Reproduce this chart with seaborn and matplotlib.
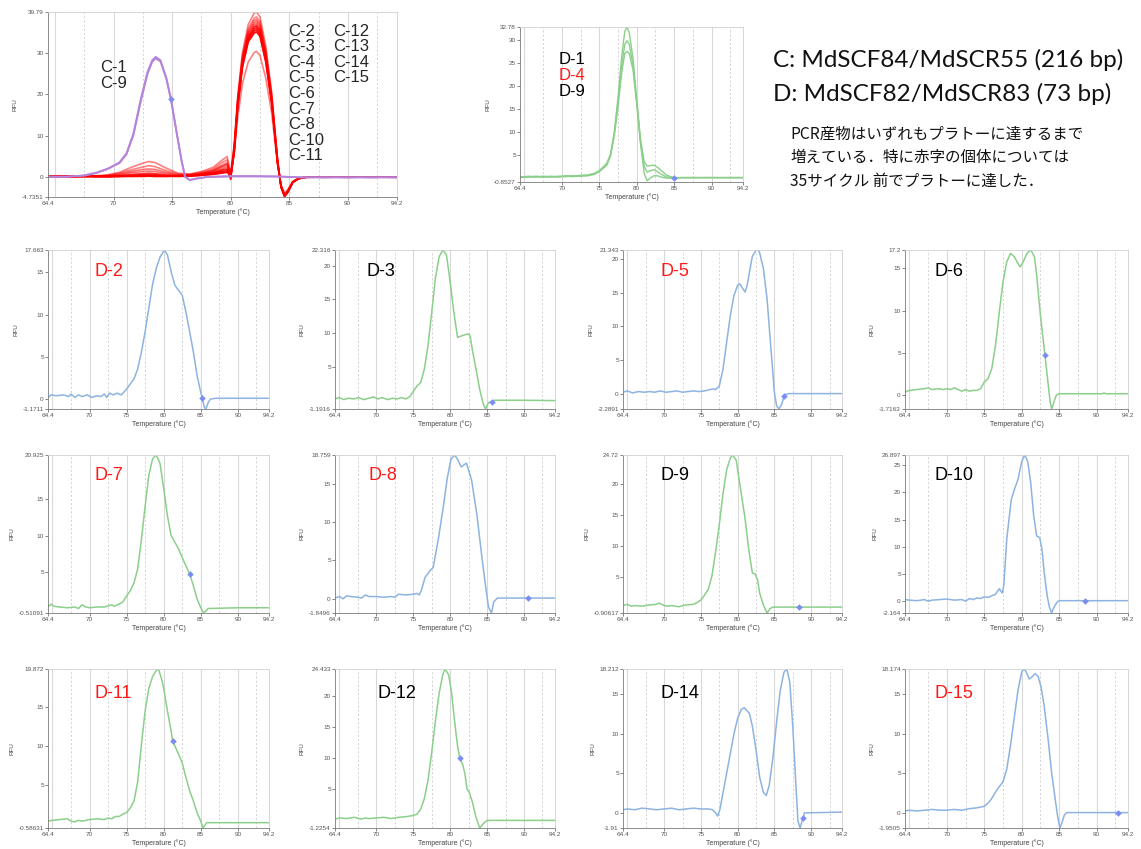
import matplotlib
matplotlib.use("Agg")
import matplotlib.pyplot as plt
import seaborn as sns

sns.set_theme(style="white")
plt.rcParams['font.family'] = ['Liberation Sans', 'DejaVu Sans']

# ---------------- data ----------------
X_TICKS = [64.4, 70, 75, 80, 85, 90, 94.2]

# C panel: red curves (C-2..C-8, C-10..C-15) on a shared temperature grid
C_t = [64.4, 65.5, 66.5, 67.5, 68.5, 69.5, 70.5, 71.5, 72.5, 73.0, 73.5, 74.5, 75.5, 76.5, 77.5,
       78.5, 79.2, 79.7, 80.0, 80.3, 80.6, 81.0, 81.5, 82.0, 82.2, 82.5, 83.0, 83.5, 84.0, 84.3,
       84.6, 84.9, 85.3, 85.8, 86.5, 88.0, 90.0, 92.0, 94.2]
C_red_1 = [0.3, 0.2, 0.4, 0.2, 0.4, 0.6, 1.2, 2.4, 3.4, 3.8, 3.6, 2.2, 1.0, 0.8, 1.4, 2.4, 4.0, 5.0, 1.0,
           8.0, 19.5, 30.0, 36.8, 39.5, 39.79, 38.6, 31.5, 20.5, 4.5, -2.5, -4.7, -3.6, -1.3, -0.3, 0.1,
           0.1, 0.1, 0.1, 0.1]
C_red_2 = [0.2, 0.4, 0.1, 0.3, 0.2, 0.5, 1.0, 1.8, 2.5, 2.8, 2.6, 1.6, 0.8, 0.7, 1.2, 2.0, 3.4, 4.2, 0.6,
           7.5, 19.0, 29.2, 35.8, 38.3, 38.6, 37.5, 30.6, 19.8, 4.2, -2.4, -4.6, -3.5, -1.2, -0.3, 0.1,
           0.0, 0.1, 0.0, 0.1]
C_red_3 = [0.4, 0.2, 0.3, 0.1, 0.3, 0.4, 0.8, 1.4, 1.9, 2.0, 1.9, 1.2, 0.6, 0.6, 1.0, 1.7, 2.8, 3.5, 0.3,
           7.2, 18.6, 28.8, 35.2, 37.7, 38.0, 36.9, 30.0, 19.4, 4.0, -2.4, -4.6, -3.5, -1.2, -0.3, 0.1,
           0.1, 0.0, 0.1, 0.1]
C_red_4 = [0.2, 0.3, 0.2, 0.4, 0.2, 0.3, 0.6, 1.1, 1.4, 1.5, 1.4, 0.9, 0.5, 0.5, 0.9, 1.5, 2.4, 3.0, 0.0,
           7.0, 18.4, 28.4, 34.8, 37.2, 37.5, 36.4, 29.6, 19.1, 3.9, -2.3, -4.5, -3.4, -1.2, -0.3, 0.0,
           0.1, 0.1, 0.1, 0.0]
C_red_5 = [0.3, 0.1, 0.3, 0.2, 0.3, 0.2, 0.4, 0.7, 0.9, 1.0, 0.9, 0.6, 0.4, 0.5, 0.8, 1.3, 2.0, 2.5, -0.3,
           6.8, 18.0, 28.0, 34.4, 36.7, 37.0, 35.9, 29.2, 18.8, 3.8, -2.3, -4.5, -3.4, -1.2, -0.3, 0.1,
           0.1, 0.1, 0.0, 0.1]
C_red_6 = [0.1, 0.3, 0.2, 0.3, 0.1, 0.2, 0.3, 0.5, 0.6, 0.6, 0.6, 0.4, 0.3, 0.4, 0.7, 1.1, 1.7, 2.0, -0.5,
           6.6, 17.7, 27.6, 33.9, 36.2, 36.5, 35.4, 28.8, 18.5, 3.7, -2.2, -4.4, -3.3, -1.1, -0.3, 0.1,
           0.0, 0.1, 0.1, 0.1]
C_red_7 = [0.3, 0.2, 0.3, 0.2, 0.3, 0.3, 0.2, 0.3, 0.4, 0.4, 0.4, 0.3, 0.3, 0.4, 0.6, 1.0, 1.4, 1.6, 0.2,
           6.4, 17.4, 27.2, 33.5, 35.7, 36.0, 34.9, 28.4, 18.3, 3.6, -2.2, -4.4, -3.3, -1.1, -0.3, 0.0,
           0.1, 0.0, 0.1, 0.1]
C_red_8 = [0.2, 0.2, 0.1, 0.3, 0.2, 0.2, 0.3, 0.2, 0.3, 0.3, 0.3, 0.3, 0.2, 0.3, 0.5, 0.8, 1.1, 1.3, 0.4,
           6.2, 17.1, 26.8, 33.0, 35.2, 35.5, 34.4, 28.0, 18.0, 3.5, -2.1, -4.3, -3.2, -1.1, -0.3, 0.1,
           0.1, 0.1, 0.1, 0.0]
C_red_9 = [0.3, 0.3, 0.2, 0.2, 0.3, 0.1, 0.2, 0.3, 0.2, 0.3, 0.2, 0.2, 0.3, 0.3, 0.5, 0.7, 1.0, 1.2, 0.5,
           6.0, 16.8, 26.4, 32.6, 34.7, 35.0, 33.9, 27.6, 17.8, 3.4, -2.1, -4.3, -3.2, -1.1, -0.3, 0.1,
           0.1, 0.1, 0.1, 0.1]
C_red_10 = [0.2, 0.3, 0.2, 0.3, 0.2, 0.3, 0.4, 0.6, 0.8, 0.9, 0.8, 0.5, 0.4, 0.5, 0.9, 1.6, 2.6, 3.2, 0.8,
            5.5, 14.5, 22.5, 27.8, 30.0, 30.3, 29.3, 23.8, 15.4, 3.0, -1.8, -3.8, -2.8, -1.0, -0.2, 0.1,
            0.1, 0.1, 0.1, 0.1]
# C panel: purple curves (C-1, C-9)
P_t = [64.4, 66.0, 67.5, 68.5, 69.5, 70.5, 71.1, 71.7, 72.3, 72.9, 73.3, 73.6, 74.0, 74.5, 74.9, 75.4,
       75.8, 76.1, 76.5, 77.1, 78.0, 80.0, 82.0, 84.0, 85.0, 86.0, 88.0, 90.0, 92.0, 94.2]
C_purple_1 = [0.1, 0.2, 0.4, 1.0, 2.0, 3.6, 5.8, 10.6, 18.6, 25.4, 28.2, 29.0, 28.2, 24.0, 18.9, 10.6,
              4.2, 0.2, -0.7, -0.3, 0.1, 0.3, 0.3, 0.2, 0.1, 0.0, 0.0, 0.0, 0.0, 0.0]
C_purple_2 = [0.2, 0.1, 0.5, 1.1, 2.1, 3.4, 5.5, 10.2, 18.0, 24.9, 27.8, 28.6, 27.9, 23.7, 18.7, 10.4,
              4.0, 0.1, -0.6, -0.3, 0.1, 0.2, 0.2, 0.2, 0.1, 0.0, 0.0, 0.0, 0.0, 0.0]
C_dot = (74.9, 18.9)
C_yticks = [-4.7351, 0, 10, 20, 30, 39.79]

# Top D panel: D-1, D-4, D-9
Dtop_t = [64.4, 65.5, 66.5, 67.5, 68.5, 69.5, 70.5, 71.5, 72.5, 73.5, 74.3, 75.0, 75.5, 76.0, 76.5,
          77.0, 77.5, 78.0, 78.4, 78.7, 79.0, 79.5, 80.0, 80.5, 81.0, 81.4, 81.8, 82.3, 82.8, 83.3,
          84.0, 85.0, 86.0, 88.0, 90.0, 92.0, 94.2]
Dtop_a = [0.2, 0.4, 0.3, 0.2, 0.4, 0.3, 0.5, 0.4, 0.6, 0.7, 1.0, 1.6, 2.4, 3.2, 5.2, 10.0, 17.5, 26.5,
          31.8, 32.78, 31.5, 26.0, 17.0, 8.5, 3.5, 2.6, 2.7, 2.8, 2.3, 1.6, 0.6, 0.1, 0.1, 0.1, 0.1,
          0.1, 0.1]
Dtop_b = [0.3, 0.2, 0.4, 0.3, 0.2, 0.4, 0.3, 0.5, 0.4, 0.6, 0.9, 1.5, 2.2, 3.0, 5.0, 9.6, 16.5, 24.5,
          29.0, 29.8, 29.0, 24.5, 16.5, 8.0, 2.5, 1.3, 1.6, 1.8, 1.4, 0.8, 0.2, 0.0, 0.1, 0.1, 0.1,
          0.1, 0.1]
Dtop_c = [0.1, 0.3, 0.2, 0.4, 0.3, 0.2, 0.4, 0.3, 0.5, 0.5, 0.8, 1.4, 2.1, 2.8, 4.8, 9.2, 15.5, 23.0,
          27.0, 27.5, 27.0, 23.5, 16.0, 7.5, 1.0, -0.6, 0.0, 0.5, 0.5, 0.2, 0.0, 0.0, 0.1, 0.1, 0.1,
          0.1, 0.1]
Dtop_dot = (85.0, 0.0)
Dtop_yticks = [-0.8527, 5, 10, 15, 20, 25, 30, 32.78]

# Individual D panels
D2_t = [64.4, 64.8, 65.5, 66.5, 67.2, 67.5, 68.0, 68.5, 69.0, 69.7, 70.3, 71.0, 71.5, 72.0, 72.3, 72.7,
        73.2, 73.7, 74.3, 74.7, 75.0, 75.5, 76.0, 76.5, 77.0, 77.5, 78.0, 78.5, 79.0, 79.5, 80.1, 80.5,
        81.0, 81.5, 82.0, 82.5, 83.0, 83.5, 84.0, 84.5, 85.0, 85.5, 85.7, 86.0, 86.3, 87.0, 94.2]
D2_v = [0.2, 0.5, 0.4, 0.5, 0.3, 0.6, 0.2, 0.5, 0.3, 0.5, 0.2, 0.4, 0.3, 0.6, 0.2, 0.7, 0.5, 0.7, 0.5,
        0.9, 1.2, 1.8, 2.4, 3.6, 5.6, 8.0, 10.8, 13.6, 15.5, 16.8, 17.663, 17.1, 15.1, 13.5, 12.9, 12.3,
        10.3, 8.0, 5.6, 2.8, 0.8, -1.0, -1.1711, -0.4, 0.0, 0.1, 0.1]
D3_t = [64.4, 65.0, 65.6, 66.2, 67.0, 67.6, 68.3, 69.0, 69.6, 70.2, 70.8, 71.5, 72.2, 72.8, 73.4, 74.0,
        74.5, 75.0, 75.5, 76.0, 76.5, 77.0, 77.5, 78.0, 78.5, 79.0, 79.5, 80.0, 80.5, 81.0, 81.5, 82.0,
        82.5, 82.7, 83.0, 83.5, 84.0, 84.5, 84.8, 85.2, 85.6, 86.0, 90.0, 94.2]
D3_v = [0.3, 0.5, 0.2, 0.4, 0.3, 0.5, 0.2, 0.4, 0.6, 0.3, 0.5, 0.2, 0.4, 0.3, 0.5, 0.3, 0.6, 1.4, 2.2,
        2.7, 4.7, 8.2, 13.1, 18.1, 21.3, 22.316, 21.6, 17.6, 13.1, 9.4, 9.6, 9.8, 9.9, 9.6, 7.6, 4.7,
        1.7, -0.5, -1.1916, -0.25, -0.1, 0.1, 0.1, 0.05]
D5_t = [64.4, 65.0, 65.7, 66.5, 67.3, 68.0, 68.7, 69.5, 70.2, 71.0, 71.7, 72.5, 73.2, 74.0, 74.7, 75.5,
        76.2, 76.7, 77.0, 77.5, 78.0, 78.5, 79.0, 79.5, 80.0, 80.3, 80.7, 81.0, 81.3, 81.7, 82.0, 82.5,
        82.8, 83.0, 83.5, 84.0, 84.5, 85.0, 85.3, 85.6, 86.0, 86.3, 86.6, 87.0, 94.2]
D5_v = [0.2, 0.4, 0.1, 0.3, 0.2, 0.3, 0.2, 0.4, 0.2, 0.3, 0.4, 0.2, 0.3, 0.4, 0.3, 0.4, 0.6, 0.7, 0.6,
        1.1, 3.6, 7.6, 11.6, 14.6, 16.1, 16.3, 15.6, 15.1, 16.1, 18.6, 20.4, 21.3, 21.343, 20.9, 18.6,
        14.1, 7.1, 0.15, -1.8, -2.2891, -1.6, -0.4, -0.1, 0.0, 0.0]
D6_t = [64.4, 65.0, 66.0, 67.0, 67.5, 68.0, 69.0, 69.5, 70.0, 70.5, 71.0, 71.5, 72.0, 72.5, 73.0, 73.5,
        74.0, 74.5, 75.0, 75.5, 76.0, 76.5, 77.0, 77.5, 78.0, 78.5, 79.0, 79.5, 79.8, 80.2, 80.7, 81.2,
        81.7, 82.0, 82.5, 83.0, 83.5, 83.8, 84.0, 84.3, 84.6, 85.0, 90.8, 91.0, 91.2, 94.2]
D6_v = [0.3, 0.5, 0.6, 0.7, 0.8, 0.6, 0.7, 0.6, 0.7, 0.6, 0.8, 0.6, 0.4, 0.6, 0.4, 0.5, 0.5, 0.7, 1.5,
        1.9, 3.1, 5.9, 9.8, 13.4, 15.8, 16.8, 16.4, 15.6, 15.2, 15.8, 16.8, 17.2, 16.4, 14.2, 9.4, 5.5,
        1.5, -0.9, -1.7163, -0.9, -0.1, 0.1, 0.1, 0.2, 0.1, 0.1]
D7_t = [64.4, 64.8, 65.2, 66.0, 67.0, 68.0, 68.5, 69.0, 69.5, 70.0, 71.0, 72.0, 73.0, 73.3, 74.0, 74.5,
        75.0, 75.5, 76.0, 76.5, 77.0, 77.5, 78.0, 78.5, 79.0, 79.5, 80.0, 80.5, 81.0, 81.5, 82.0, 82.5,
        83.0, 83.5, 84.0, 84.5, 85.0, 85.4, 86.0, 90.0, 94.2]
D7_v = [0.3, 0.7, 0.4, 0.3, 0.2, 0.3, 0.1, 0.6, 0.3, 0.2, 0.3, 0.3, 0.6, 0.4, 0.7, 1.0, 1.8, 2.5, 3.6,
        5.5, 9.5, 14.0, 18.2, 20.4, 20.925, 19.8, 16.4, 12.7, 10.0, 9.1, 8.2, 7.0, 5.9, 4.8, 3.2, 1.4,
        0.2, -0.51091, 0.1, 0.2, 0.2]
D8_t = [64.4, 65.0, 65.5, 66.0, 66.5, 67.5, 68.0, 68.5, 69.0, 70.0, 71.0, 72.0, 72.5, 73.0, 74.0, 75.0,
        75.5, 75.8, 76.1, 76.6, 77.3, 77.7, 78.4, 79.1, 79.6, 80.1, 80.6, 81.0, 81.5, 82.2, 82.9, 83.6,
        84.3, 84.9, 85.2, 85.6, 85.9, 86.4, 94.2]
D8_v = [0.1, 0.3, 0.0, 0.4, 0.3, 0.2, 0.1, 0.5, 0.3, 0.3, 0.2, 0.3, 0.2, 0.6, 0.5, 0.6, 0.7, 0.5, 1.1,
        2.8, 3.7, 4.1, 7.8, 12.2, 15.7, 18.2, 18.759, 18.2, 17.2, 17.7, 15.5, 11.1, 5.4, 0.9, -1.1,
        -1.8496, -0.4, 0.1, 0.1]
D9_t = [64.4, 65.0, 65.5, 66.0, 67.0, 68.0, 69.0, 69.3, 70.0, 70.5, 71.0, 72.0, 72.5, 73.0, 74.0, 74.5,
        75.0, 75.5, 76.0, 76.5, 77.0, 77.5, 78.0, 78.5, 79.0, 79.3, 79.8, 80.0, 80.5, 81.0, 81.5, 82.0,
        82.4, 82.7, 83.0, 83.5, 84.0, 84.4, 84.8, 94.2]
D9_v = [0.3, 0.5, 0.2, 0.3, 0.2, 0.4, 0.5, 0.7, 0.3, 0.2, 0.3, 0.1, 0.3, 0.4, 0.5, 0.8, 1.2, 2.0, 2.9,
        5.1, 9.0, 13.4, 18.4, 22.3, 24.2, 24.72, 23.9, 22.3, 18.4, 14.5, 9.5, 5.6, 5.4, 4.5, 2.3, 0.4,
        -0.90617, -0.2, 0.05, 0.05]
D10_t = [64.4, 65.0, 66.0, 67.0, 67.5, 68.0, 69.0, 70.0, 71.0, 72.0, 72.5, 73.0, 73.5, 74.0, 74.5, 75.0,
         75.5, 76.0, 76.5, 77.0, 77.4, 77.6, 78.0, 78.3, 78.6, 79.0, 79.5, 80.0, 80.4, 80.8, 81.2, 81.6,
         82.0, 82.4, 82.7, 83.0, 83.4, 83.7, 84.0, 84.3, 84.7, 85.0, 94.2]
D10_v = [0.3, 0.2, 0.1, 0.3, 0.0, 0.2, 0.3, 0.4, 0.2, 0.3, 0.0, 0.5, 0.3, 0.6, 0.5, 0.8, 0.7, 1.0, 1.3,
         2.3, 1.5, 2.9, 11.4, 15.1, 18.7, 20.5, 22.4, 25.7, 26.897, 25.7, 21.8, 15.7, 12.0, 11.7, 9.6,
         5.3, 1.0, -1.1, -2.164, -1.1, -0.2, 0.1, 0.1]
D11_t = [64.4, 65.0, 66.0, 67.0, 67.5, 68.0, 68.5, 69.0, 70.0, 71.0, 72.0, 72.5, 73.0, 73.5, 74.0, 74.5,
         75.0, 75.5, 76.0, 76.5, 77.0, 77.5, 78.0, 78.5, 79.0, 79.3, 79.8, 80.0, 80.5, 81.0, 81.2, 81.5,
         82.0, 82.5, 83.0, 83.5, 84.0, 84.5, 85.0, 85.3, 85.8, 94.2]
D11_v = [0.3, 0.4, 0.5, 0.6, 0.3, 0.2, 0.4, 0.3, 0.5, 0.6, 0.5, 0.7, 0.6, 0.9, 0.9, 1.2, 1.4, 2.0, 2.9,
         5.4, 10.2, 14.5, 17.4, 18.9, 19.7, 19.872, 18.3, 17.4, 14.5, 11.9, 10.6, 10.0, 8.9, 7.8, 5.9,
         4.2, 2.9, 1.4, 0.3, -0.58631, 0.1, 0.1]
D12_t = [64.4, 65.0, 66.0, 67.0, 68.0, 68.5, 69.0, 70.0, 71.0, 72.0, 73.0, 74.0, 75.0, 75.5, 76.0, 76.5,
         77.0, 77.5, 78.0, 78.5, 79.0, 79.3, 79.8, 80.2, 80.6, 81.0, 81.3, 81.7, 82.0, 82.3, 82.6, 83.0,
         83.5, 84.0, 84.5, 85.0, 94.2]
D12_v = [0.2, 0.4, 0.3, 0.5, 0.2, 0.4, 0.3, 0.4, 0.5, 0.3, 0.5, 0.6, 0.8, 1.0, 1.8, 3.5, 6.5, 11.0, 16.0,
         20.5, 23.5, 24.433, 23.5, 20.5, 16.0, 12.0, 10.0, 9.0, 7.5, 5.0, 4.5, 3.0, 0.5, -1.2254, -0.5,
         0.0, 0.0]
D14_t = [64.4, 65.0, 66.0, 67.0, 68.0, 69.0, 70.0, 71.0, 72.0, 73.0, 74.0, 75.0, 76.0, 76.6, 77.0, 77.3,
         77.6, 78.0, 78.5, 79.0, 79.5, 80.0, 80.5, 80.9, 81.3, 81.6, 82.0, 82.5, 83.0, 83.5, 83.9, 84.3,
         84.8, 85.3, 85.8, 86.3, 86.7, 87.1, 87.5, 87.9, 88.2, 88.5, 88.8, 89.1, 94.2]
D14_v = [0.4, 0.5, 0.4, 0.6, 0.5, 0.4, 0.5, 0.6, 0.4, 0.5, 0.6, 0.5, 0.5, 0.4, 0.0, -0.4, 0.5, 2.5, 5.0,
         7.5, 10.0, 12.0, 13.1, 13.3, 12.9, 12.6, 11.0, 8.0, 4.5, 2.6, 2.2, 3.5, 7.0, 11.5, 15.5, 17.8,
         18.212, 16.5, 11.0, 4.0, -1.0, -1.91, -0.9, 0.0, 0.1]
D15_t = [64.4, 65.0, 66.0, 67.0, 68.0, 69.0, 70.0, 71.0, 72.0, 73.0, 74.0, 75.0, 75.5, 76.0, 76.5, 77.0,
         77.5, 78.0, 78.5, 79.0, 79.5, 80.0, 80.3, 80.6, 81.0, 81.4, 81.8, 82.2, 82.6, 83.0, 83.5, 84.0,
         84.5, 84.8, 85.1, 85.4, 85.7, 86.0, 94.2]
D15_v = [0.2, 0.3, 0.2, 0.3, 0.4, 0.3, 0.3, 0.4, 0.3, 0.5, 0.6, 0.8, 1.2, 1.8, 2.6, 3.3, 3.9, 5.5, 8.5,
         12.0, 15.5, 17.8, 18.174, 17.8, 16.9, 17.2, 17.6, 17.2, 15.8, 13.5, 9.5, 5.0, 1.5, -0.5,
         -1.9505, -1.2, -0.3, 0.0, 0.0]

D_names = ["D-2", "D-3", "D-5", "D-6", "D-7", "D-8", "D-9", "D-10", "D-11", "D-12", "D-14", "D-15"]
D_red = ["D-2", "D-5", "D-7", "D-8", "D-11", "D-15"]
D_series = [(D2_t, D2_v), (D3_t, D3_v), (D5_t, D5_v), (D6_t, D6_v), (D7_t, D7_v), (D8_t, D8_v),
            (D9_t, D9_v), (D10_t, D10_v), (D11_t, D11_v), (D12_t, D12_v), (D14_t, D14_v), (D15_t, D15_v)]
D_kind = ["blue", "green", "blue", "green", "green", "blue", "green", "blue", "green", "green", "blue", "blue"]
D_dots = [(85.2, 0.1), (85.6, -0.1), (86.3, -0.4), (83.1, 4.7), (83.5, 4.8), (90.6, 0.1),
          (88.4, 0.05), (88.4, 0.1), (81.2, 10.6), (81.3, 10.0), (88.9, -0.6), (92.8, 0.0)]
D_yticks = [
    [-1.1711, 0, 5, 10, 15, 17.663],
    [-1.1916, 5, 10, 15, 20, 22.316],
    [-2.2891, 0, 5, 10, 15, 20, 21.343],
    [-1.7163, 0, 5, 10, 15, 17.2],
    [-0.51091, 5, 10, 15, 20.925],
    [-1.8496, 0, 5, 10, 15, 18.759],
    [-0.90617, 5, 10, 15, 20, 24.72],
    [-2.164, 0, 5, 10, 15, 20, 25, 26.897],
    [-0.58631, 5, 10, 15, 19.872],
    [-1.2254, 5, 10, 15, 20, 24.433],
    [-1.91, 0, 5, 10, 15, 18.212],
    [-1.9505, 0, 5, 10, 15, 18.174],
]

C_labels_left = ["C-1", "C-9"]
C_labels_mid = ["C-2", "C-3", "C-4", "C-5", "C-6", "C-7", "C-8", "C-10", "C-11"]
C_labels_right = ["C-12", "C-13", "C-14", "C-15"]
Dtop_labels = ["D-1", "D-4", "D-9"]
Dtop_label_colors = ["black", "red", "black"]

title_C = "C: MdSCF84/MdSCR55 (216 bp)"
title_D = "D: MdSCF82/MdSCR83 (73 bp)"
note_lines = ["PCR産物はいずれもプラトーに達するまで",
              "増えている．特に赤字の個体については",
              "35サイクル 前でプラトーに達した．"]

# ---------------- style ----------------
BLUE = "#8db3e0"
GREEN = "#8bcf8b"
RED = "#ff0000"
PURPLE = "#b583da"
DOT = "#7b8cf2"
LABEL_RED = "#ff1a1a"

W, H = 1141, 849
fig = plt.figure(figsize=(W / 100, H / 100), dpi=100)
fig.patch.set_facecolor("white")


def box(l, t, r, b):
    return [l / W, 1 - b / H, (r - l) / W, (b - t) / H]


SOLID = [65, 70, 75, 80, 85, 90]
DASH = [67.5, 72.5, 77.5, 82.5, 87.5, 92.5]


def style_axes(ax, yticks):
    ax.set_xlim(64.4, 94.2)
    ax.set_ylim(yticks[0], yticks[-1])
    for g in SOLID:
        ax.axvline(g, color="#d9d9d9", lw=0.8, zorder=0)
    for g in DASH:
        ax.axvline(g, color="#cccccc", lw=0.6, ls=(0, (2.5, 2.5)), zorder=0)
    ax.set_xticks(X_TICKS)
    ax.set_xticklabels([f"{v:g}" for v in X_TICKS])
    ax.set_yticks(yticks)
    ax.set_yticklabels([f"{v:g}" for v in yticks])
    ax.tick_params(axis="both", labelsize=4.6, colors="#555555", length=2, width=0.5, pad=1,
                   left=True, bottom=True)
    ax.set_xlabel("Temperature (°C)", fontsize=5, color="#444444", labelpad=1.5)
    ax.set_ylabel("RFU", fontsize=4.5, color="#444444", labelpad=3)
    for s in ["left", "bottom"]:
        ax.spines[s].set_color("#7a7a7a")
        ax.spines[s].set_linewidth(0.6)
    for s in ["top", "right"]:
        ax.spines[s].set_color("#d0d0d0")
        ax.spines[s].set_linewidth(0.6)
    ax.set_facecolor("white")


def dot(ax, xy):
    sns.scatterplot(x=[xy[0]], y=[xy[1]], ax=ax, marker="D", s=9, color=DOT,
                    edgecolor=DOT, linewidth=0.3, zorder=5, legend=False)


# ---- C panel ----
axC = fig.add_axes(box(48, 12, 397, 197))
style_axes(axC, C_yticks)
reds = [C_red_1, C_red_2, C_red_3, C_red_4, C_red_5, C_red_10, C_red_6, C_red_7, C_red_8, C_red_9]
alphas = [0.5, 0.5, 0.55, 0.55, 0.6, 0.5, 0.9, 0.9, 0.95, 0.95]
for v, a in zip(reds, alphas):
    sns.lineplot(x=C_t, y=v, ax=axC, color=RED, alpha=a, lw=1.2, sort=False, estimator=None)
for v in [C_purple_1, C_purple_2]:
    sns.lineplot(x=P_t, y=v, ax=axC, color=PURPLE, lw=1.3, sort=False, estimator=None)
dot(axC, C_dot)

for i, s in enumerate(C_labels_left):
    fig.text(100 / W, 1 - (68 + i * 15.5) / H, s, fontsize=12, va="center", ha="left")
for i, s in enumerate(C_labels_mid):
    fig.text(288 / W, 1 - (31 + i * 15.6) / H, s, fontsize=12, va="center", ha="left")
for i, s in enumerate(C_labels_right):
    fig.text(333 / W, 1 - (31 + i * 15.6) / H, s, fontsize=12, va="center", ha="left")

# ---- top D panel ----
axT = fig.add_axes(box(520, 27, 743, 182))
style_axes(axT, Dtop_yticks)
for v in [Dtop_c, Dtop_b, Dtop_a]:
    sns.lineplot(x=Dtop_t, y=v, ax=axT, color=GREEN, lw=1.0, sort=False, estimator=None)
dot(axT, Dtop_dot)
for i, (s, c) in enumerate(zip(Dtop_labels, Dtop_label_colors)):
    fig.text(559 / W, 1 - (60 + i * 16) / H, s, fontsize=12, va="center", ha="left",
             color=LABEL_RED if c == "red" else "black")

# ---- titles & note ----
fig.text(773 / W, 1 - 60 / H, title_C, fontsize=17.5, va="center", ha="left",
         family=["Lato", "DejaVu Sans"], color="#111111")
fig.text(773 / W, 1 - 94 / H, title_D, fontsize=17.5, va="center", ha="left",
         family=["Lato", "DejaVu Sans"], color="#111111")
for i, line in enumerate(note_lines):
    fig.text(790 / W, 1 - (134 + i * 23.5) / H, line, fontsize=11.2, va="center", ha="left",
             family=["Noto Sans CJK JP", "DejaVu Sans"], color="#111111")

# ---- grid of D panels ----
cols = [(48, 269), (335, 555), (623, 842), (905, 1128)]
rows = [(250, 409), (455, 613), (669, 828)]
title_x = [95, 367, 660, 934, 95, 368, 660, 934, 95, 378, 660, 935]
for k, name in enumerate(D_names):
    r, c = divmod(k, 4)
    l, rr = cols[c]
    t, b = rows[r]
    ax = fig.add_axes(box(l, t, rr, b))
    style_axes(ax, D_yticks[k])
    tt, vv = D_series[k]
    col = BLUE if D_kind[k] == "blue" else GREEN
    sns.lineplot(x=tt, y=vv, ax=ax, color=col, lw=1.1, sort=False, estimator=None)
    dot(ax, D_dots[k])
    fig.text(title_x[k] / W, 1 - (t + 21 + (3 if r == 2 else 0)) / H, name, fontsize=13,
             va="center", ha="left", color=LABEL_RED if name in D_red else "black")

fig.savefig("out.png", dpi=100, facecolor="white")
